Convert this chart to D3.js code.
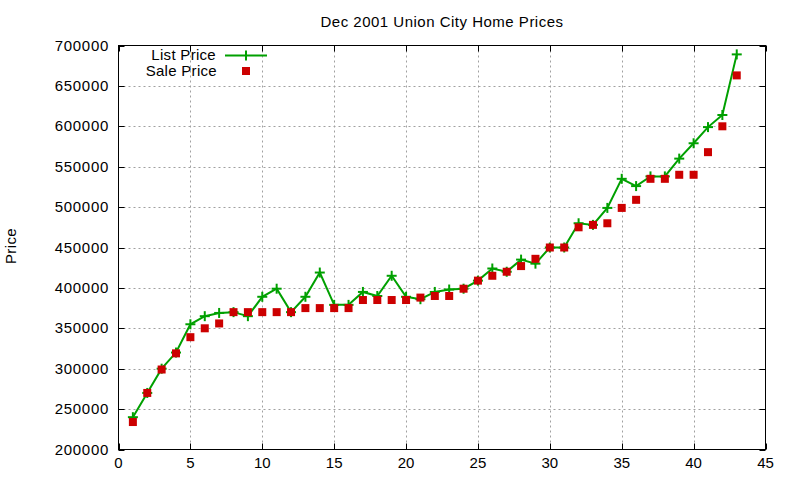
<!DOCTYPE html>
<html>
<head>
<meta charset="utf-8">
<script src="https://cdn.jsdelivr.net/npm/d3@7"></script>
<style>
  body { margin: 0; background: #fff; }
  text { font-family: "Liberation Sans", Arial, sans-serif; fill: #000; }
</style>
</head>
<body>
<svg id="chart" width="800" height="480"></svg>
<script>
// house index (1..43)
var houseIdx = d3.range(1, 44);
var listPrice = [240000, 270000, 300000, 320000, 355000, 365000, 369000, 370000, 365000, 389000,
                 399000, 370000, 389000, 419000, 379000, 379000, 395000, 390000, 415000, 389000,
                 386000, 395000, 398000, 399000, 409000, 424000, 420000, 435000, 430000, 450000,
                 450000, 480000, 478000, 499000, 535000, 526000, 538000, 538000, 560000, 579000,
                 599000, 614000, 689000];
var salePrice = [234000, 270000, 299000, 319000, 339000, 350000, 356000, 370000, 370000, 370000,
                 370000, 370000, 375000, 375000, 375000, 375000, 385000, 385000, 385000, 385000,
                 388000, 390000, 390000, 399000, 409000, 415000, 420000, 427000, 436000, 450000,
                 450000, 475000, 478000, 480000, 499000, 509000, 535000, 535000, 540000, 540000,
                 568000, 600000, 663000];
var xTicks = [0, 5, 10, 15, 20, 25, 30, 35, 40, 45];
var yTicks = [200000, 250000, 300000, 350000, 400000, 450000, 500000, 550000, 600000, 650000, 700000];

var GREEN = "#00a000";
var RED = "#cc0000";

var svg = d3.select("#chart");
var pLeft = 118.5, pRight = 765.5, pTop = 45.5, pBottom = 449.5;

var x = d3.scaleLinear().domain([0, 45]).range([pLeft, pRight]);
var y = d3.scaleLinear().domain([200000, 700000]).range([pBottom, pTop]);

// grid
var grid = svg.append("g");
grid.selectAll("line.gx").data(xTicks.slice(1, -1)).enter().append("line")
    .attr("x1", d => Math.round(x(d)) + 0.5).attr("x2", d => Math.round(x(d)) + 0.5)
    .attr("y1", pTop).attr("y2", pBottom)
    .style("stroke", "#a0a0a0").style("stroke-dasharray", "2,3");
grid.selectAll("line.gy").data(yTicks.slice(1, -1)).enter().append("line")
    .attr("y1", d => Math.round(y(d)) + 0.5).attr("y2", d => Math.round(y(d)) + 0.5)
    .attr("x1", pLeft).attr("x2", pRight)
    .style("stroke", "#a0a0a0").style("stroke-dasharray", "2,3");

// ticks (inward, mirrored)
var ticks = svg.append("g").style("stroke", "#000");
xTicks.forEach(function(d) {
    var px = Math.round(x(d)) + 0.5;
    ticks.append("line").attr("x1", px).attr("x2", px).attr("y1", pBottom).attr("y2", pBottom - 6);
    ticks.append("line").attr("x1", px).attr("x2", px).attr("y1", pTop).attr("y2", pTop + 6);
});
yTicks.forEach(function(d) {
    var py = Math.round(y(d)) + 0.5;
    ticks.append("line").attr("y1", py).attr("y2", py).attr("x1", pLeft).attr("x2", pLeft + 6);
    ticks.append("line").attr("y1", py).attr("y2", py).attr("x1", pRight).attr("x2", pRight - 6);
});

// frame
svg.append("rect")
    .attr("x", pLeft).attr("y", pTop)
    .attr("width", pRight - pLeft).attr("height", pBottom - pTop)
    .style("fill", "none").style("stroke", "#000");

// tick labels
svg.append("g").selectAll("text").data(xTicks).enter().append("text")
    .attr("x", d => x(d)).attr("y", 468)
    .attr("text-anchor", "middle")
    .style("font-size", "15px")
    .text(d => d);
svg.append("g").selectAll("text").data(yTicks).enter().append("text")
    .attr("x", 109).attr("y", d => y(d) + 5)
    .attr("text-anchor", "end")
    .style("font-size", "15px").style("letter-spacing", "0.7px")
    .text(d => d);

// title + axis label
svg.append("text").attr("x", 442).attr("y", 27)
    .attr("text-anchor", "middle").style("font-size", "15px").style("letter-spacing", "0.5px")
    .text("Dec 2001 Union City Home Prices");
svg.append("text")
    .attr("transform", "translate(16,246) rotate(-90)")
    .attr("text-anchor", "middle").style("font-size", "15px").style("letter-spacing", "0.4px")
    .text("Price");

// list price line + markers
var line = d3.line().x((d, i) => x(houseIdx[i])).y(d => y(d));
svg.append("path").datum(listPrice)
    .attr("d", line)
    .style("fill", "none").style("stroke", GREEN).style("stroke-width", 2);
var plus = svg.append("g").style("stroke", GREEN).style("stroke-width", 2);
listPrice.forEach(function(d, i) {
    var px = x(houseIdx[i]), py = y(d);
    plus.append("line").attr("x1", px - 5).attr("x2", px + 5).attr("y1", py).attr("y2", py);
    plus.append("line").attr("x1", px).attr("x2", px).attr("y1", py - 5).attr("y2", py + 5);
});

// sale price squares
svg.append("g").selectAll("rect").data(salePrice).enter().append("rect")
    .attr("x", (d, i) => x(houseIdx[i]) - 4)
    .attr("y", d => y(d) - 4)
    .attr("width", 8).attr("height", 8)
    .style("fill", RED);

// legend
var lg = svg.append("g").style("font-size", "15px").style("letter-spacing", "0.3px");
lg.append("text").attr("x", 216).attr("y", 60).attr("text-anchor", "end")
    .text("List Price");
lg.append("line").attr("x1", 225).attr("x2", 267).attr("y1", 55.5).attr("y2", 55.5)
    .style("stroke", GREEN).style("stroke-width", 2);
lg.append("line").attr("x1", 246).attr("x2", 246).attr("y1", 50.5).attr("y2", 60.5)
    .style("stroke", GREEN).style("stroke-width", 2);
lg.append("text").attr("x", 217).attr("y", 76).attr("text-anchor", "end")
    .text("Sale Price");
lg.append("rect").attr("x", 242).attr("y", 67).attr("width", 8).attr("height", 8)
    .style("fill", RED);
</script>
</body>
</html>
